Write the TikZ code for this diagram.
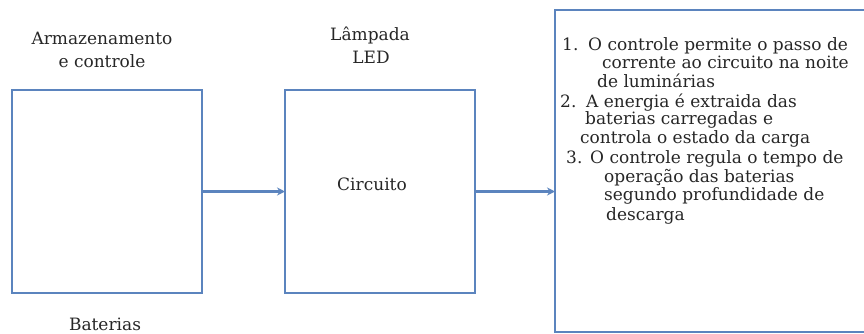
\documentclass[tikz,border=0pt]{standalone}
\usepackage{fontspec}
\setmainfont{DejaVu Serif}
\usetikzlibrary{arrows.meta}
\definecolor{boxblue}{HTML}{5B84BE}
\begin{document}
\begin{tikzpicture}[x=1pt,y=-1pt,
  blk/.style={draw=boxblue, line width=2.2pt, inner sep=0pt, outer sep=0pt},
  lbl/.style={font=\fontsize{17}{17}\selectfont, inner sep=0pt, anchor=base, text=black!85, text height=11pt, text depth=2.5pt},
  itm/.style={font=\fontsize{17}{17}\selectfont, inner sep=0pt, anchor=base west, text=black!85, text height=11pt, text depth=2.5pt},
  conn/.style={draw=boxblue, line width=2.2pt, -{Stealth[length=8pt,width=8pt]}}]
\useasboundingbox (0,0) rectangle (864,333);
\node[blk, minimum width=190pt, minimum height=203pt] (b1) at (107,191.5) {};
\node[blk, minimum width=190pt, minimum height=203pt] (b2) at (380,191.5) {};
\node[blk, minimum width=315pt, minimum height=322pt] (b3) at (712.5,171) {};
\draw[conn] (b1.east) -- (b2.west);
\draw[conn] (b2.east) -- (b2.east -| b3.west);
\node[lbl] (l1) at (102,44) {Armazenamento};
\node[lbl] (l2) at (102,67) {e controle};
\node[lbl] (l3) at (105,330) {Baterias};
\node[lbl] (l4) at (370,40) {Lâmpada};
\node[lbl] (l5) at (371,63) {LED};
\node[lbl] (l6) at (372,190) {Circuito};
\node[itm] (n1) at (562,50) {1.};
\node[itm] (t1) at (588,50) {O controle permite o passo de};
\node[itm] (t2) at (602,68) {corrente ao circuito na noite};
\node[itm] (t3) at (597,87) {de luminárias};
\node[itm] (n2) at (560,107) {2.};
\node[itm] (t4) at (586,107) {A energia é extraida das};
\node[itm] (t5) at (585,124) {baterias carregadas e};
\node[itm] (t6) at (580,143) {controla o estado da carga};
\node[itm] (n3) at (566,163) {3.};
\node[itm] (t7) at (590,163) {O controle regula o tempo de};
\node[itm] (t8) at (604,182) {operação das baterias};
\node[itm] (t9) at (604,200) {segundo profundidade de};
\node[itm] (t10) at (606,220) {descarga};
\end{tikzpicture}
\end{document}
